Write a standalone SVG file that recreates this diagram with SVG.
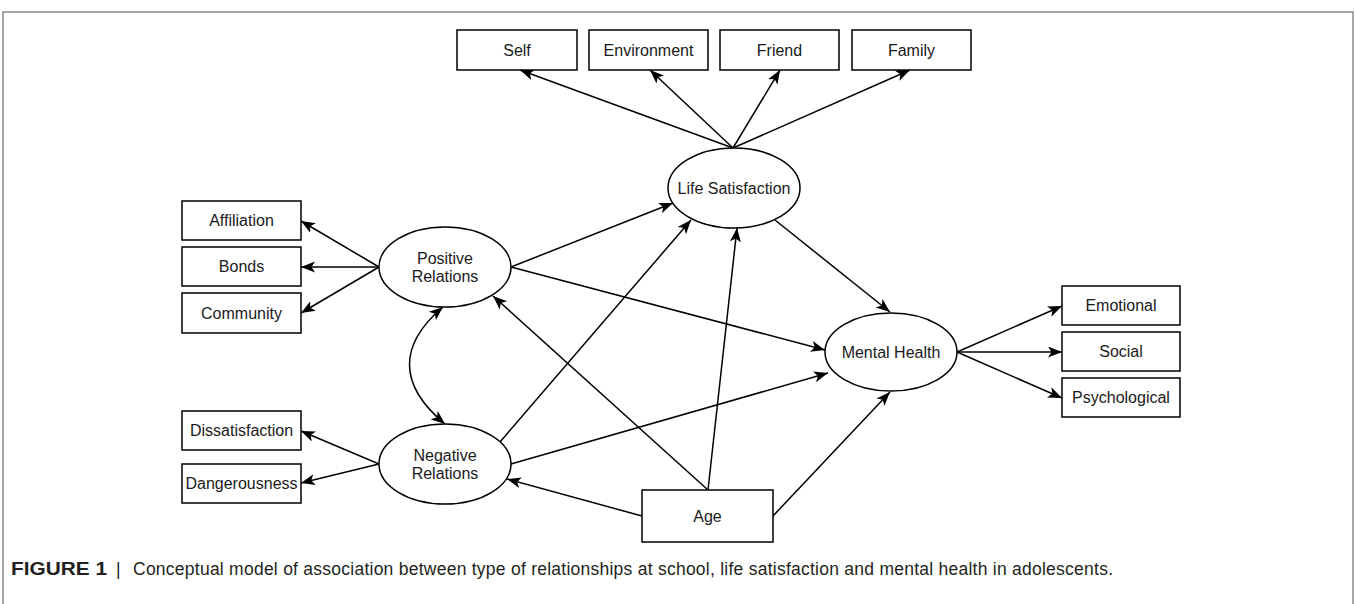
<svg xmlns="http://www.w3.org/2000/svg" width="1355" height="604" viewBox="0 0 1355 604">
<style>
.box{fill:#fff;stroke:#000;stroke-width:1.5}
.lbl{font-family:"Liberation Sans",Arial,sans-serif;font-size:16px;fill:#1a1a1a;text-anchor:middle}
.cn{fill:none;stroke:#000;stroke-width:1.5;marker-end:url(#ah)}
.frame{fill:none;stroke:#8a8a8a;stroke-width:1.5}
.cap{font-family:"Liberation Sans",Arial,sans-serif;font-size:17.5px;fill:#231f20}
</style>
<defs>
<marker id="ah" markerUnits="userSpaceOnUse" markerWidth="15" markerHeight="12" refX="14" refY="5.5" orient="auto">
<path d="M0,0 L14,5.5 L0,11 L3.5,5.5 Z" fill="#000"/>
</marker>
<marker id="ahs" markerUnits="userSpaceOnUse" markerWidth="15" markerHeight="12" refX="0" refY="5.5" orient="auto">
<path d="M14,0 L0,5.5 L14,11 L10.5,5.5 Z" fill="#000"/>
</marker>
</defs>
<path class="frame" d="M3,604 L3,12 L1353,12 L1353,604"/>

<g id="connectors">
<line class="cn" x1="733" y1="148" x2="520" y2="70"/>
<line class="cn" x1="733" y1="148" x2="650" y2="70"/>
<line class="cn" x1="733" y1="148" x2="780" y2="70"/>
<line class="cn" x1="733" y1="148" x2="910" y2="70"/>
<line class="cn" x1="379" y1="267" x2="301" y2="221"/>
<line class="cn" x1="379" y1="267" x2="301" y2="267"/>
<line class="cn" x1="379" y1="267" x2="301" y2="313"/>
<line class="cn" x1="379" y1="464" x2="301" y2="431"/>
<line class="cn" x1="379" y1="464" x2="301" y2="483"/>
<line class="cn" x1="957" y1="352" x2="1062" y2="306"/>
<line class="cn" x1="957" y1="352" x2="1062" y2="352"/>
<line class="cn" x1="957" y1="352" x2="1062" y2="398"/>
<line class="cn" x1="511" y1="267" x2="673" y2="203"/>
<line class="cn" x1="511" y1="267" x2="825" y2="350"/>
<line class="cn" x1="775" y1="220" x2="890" y2="312"/>
<line class="cn" x1="500" y1="442" x2="691" y2="220"/>
<line class="cn" x1="511" y1="464" x2="828" y2="373"/>
<line class="cn" x1="708" y1="490" x2="493" y2="296"/>
<line class="cn" x1="708" y1="490" x2="737" y2="228"/>
<line class="cn" x1="642" y1="516" x2="507" y2="479"/>
<line class="cn" x1="773" y1="516" x2="890" y2="392"/>
<path class="cn" style="marker-start:url(#ahs)" d="M443,307 C398,345 398,385 445,424"/>
</g>

<g id="self"><rect class="box" x="457" y="30" width="120" height="40"/><text class="lbl" x="517" y="56">Self</text></g>
<g id="environment"><rect class="box" x="589" y="30" width="119" height="40"/><text class="lbl" x="648.5" y="56">Environment</text></g>
<g id="friend"><rect class="box" x="720" y="30" width="119" height="40"/><text class="lbl" x="779.5" y="56">Friend</text></g>
<g id="family"><rect class="box" x="852" y="30" width="119" height="40"/><text class="lbl" x="911.5" y="56">Family</text></g>

<g id="life-satisfaction"><ellipse class="box" cx="734" cy="188" rx="66" ry="40"/><text class="lbl" x="734" y="194">Life Satisfaction</text></g>

<g id="affiliation"><rect class="box" x="182" y="201" width="119" height="39"/><text class="lbl" x="241.5" y="226">Affiliation</text></g>
<g id="bonds"><rect class="box" x="182" y="247" width="119" height="39"/><text class="lbl" x="241.5" y="272">Bonds</text></g>
<g id="community"><rect class="box" x="182" y="293" width="119" height="40"/><text class="lbl" x="241.5" y="318.5">Community</text></g>

<g id="positive-relations"><ellipse class="box" cx="445" cy="267" rx="66" ry="40"/><text class="lbl" x="445" y="264">Positive</text><text class="lbl" x="445" y="282">Relations</text></g>

<g id="dissatisfaction"><rect class="box" x="182" y="411" width="119" height="39"/><text class="lbl" x="241.5" y="436">Dissatisfaction</text></g>
<g id="dangerousness"><rect class="box" x="182" y="464" width="119" height="39"/><text class="lbl" x="241.5" y="489">Dangerousness</text></g>

<g id="negative-relations"><ellipse class="box" cx="445" cy="464" rx="66" ry="40"/><text class="lbl" x="445" y="461">Negative</text><text class="lbl" x="445" y="479">Relations</text></g>

<g id="age"><rect class="box" x="642" y="490" width="131" height="52"/><text class="lbl" x="707.5" y="522">Age</text></g>

<g id="mental-health"><ellipse class="box" cx="891" cy="352" rx="66" ry="39"/><text class="lbl" x="891" y="358">Mental Health</text></g>

<g id="emotional"><rect class="box" x="1062" y="286" width="118" height="39"/><text class="lbl" x="1121" y="311">Emotional</text></g>
<g id="social"><rect class="box" x="1062" y="332" width="118" height="39"/><text class="lbl" x="1121" y="357">Social</text></g>
<g id="psychological"><rect class="box" x="1062" y="378" width="118" height="39"/><text class="lbl" x="1121" y="403">Psychological</text></g>

<g id="caption">
<text class="cap" x="11" y="575" font-weight="bold" font-size="18" textLength="96" lengthAdjust="spacingAndGlyphs">FIGURE 1</text>
<text class="cap" x="116" y="575">|</text>
<text class="cap" x="133" y="575" textLength="980" lengthAdjust="spacing">Conceptual model of association between type of relationships at school, life satisfaction and mental health in adolescents.</text>
</g>
</svg>
